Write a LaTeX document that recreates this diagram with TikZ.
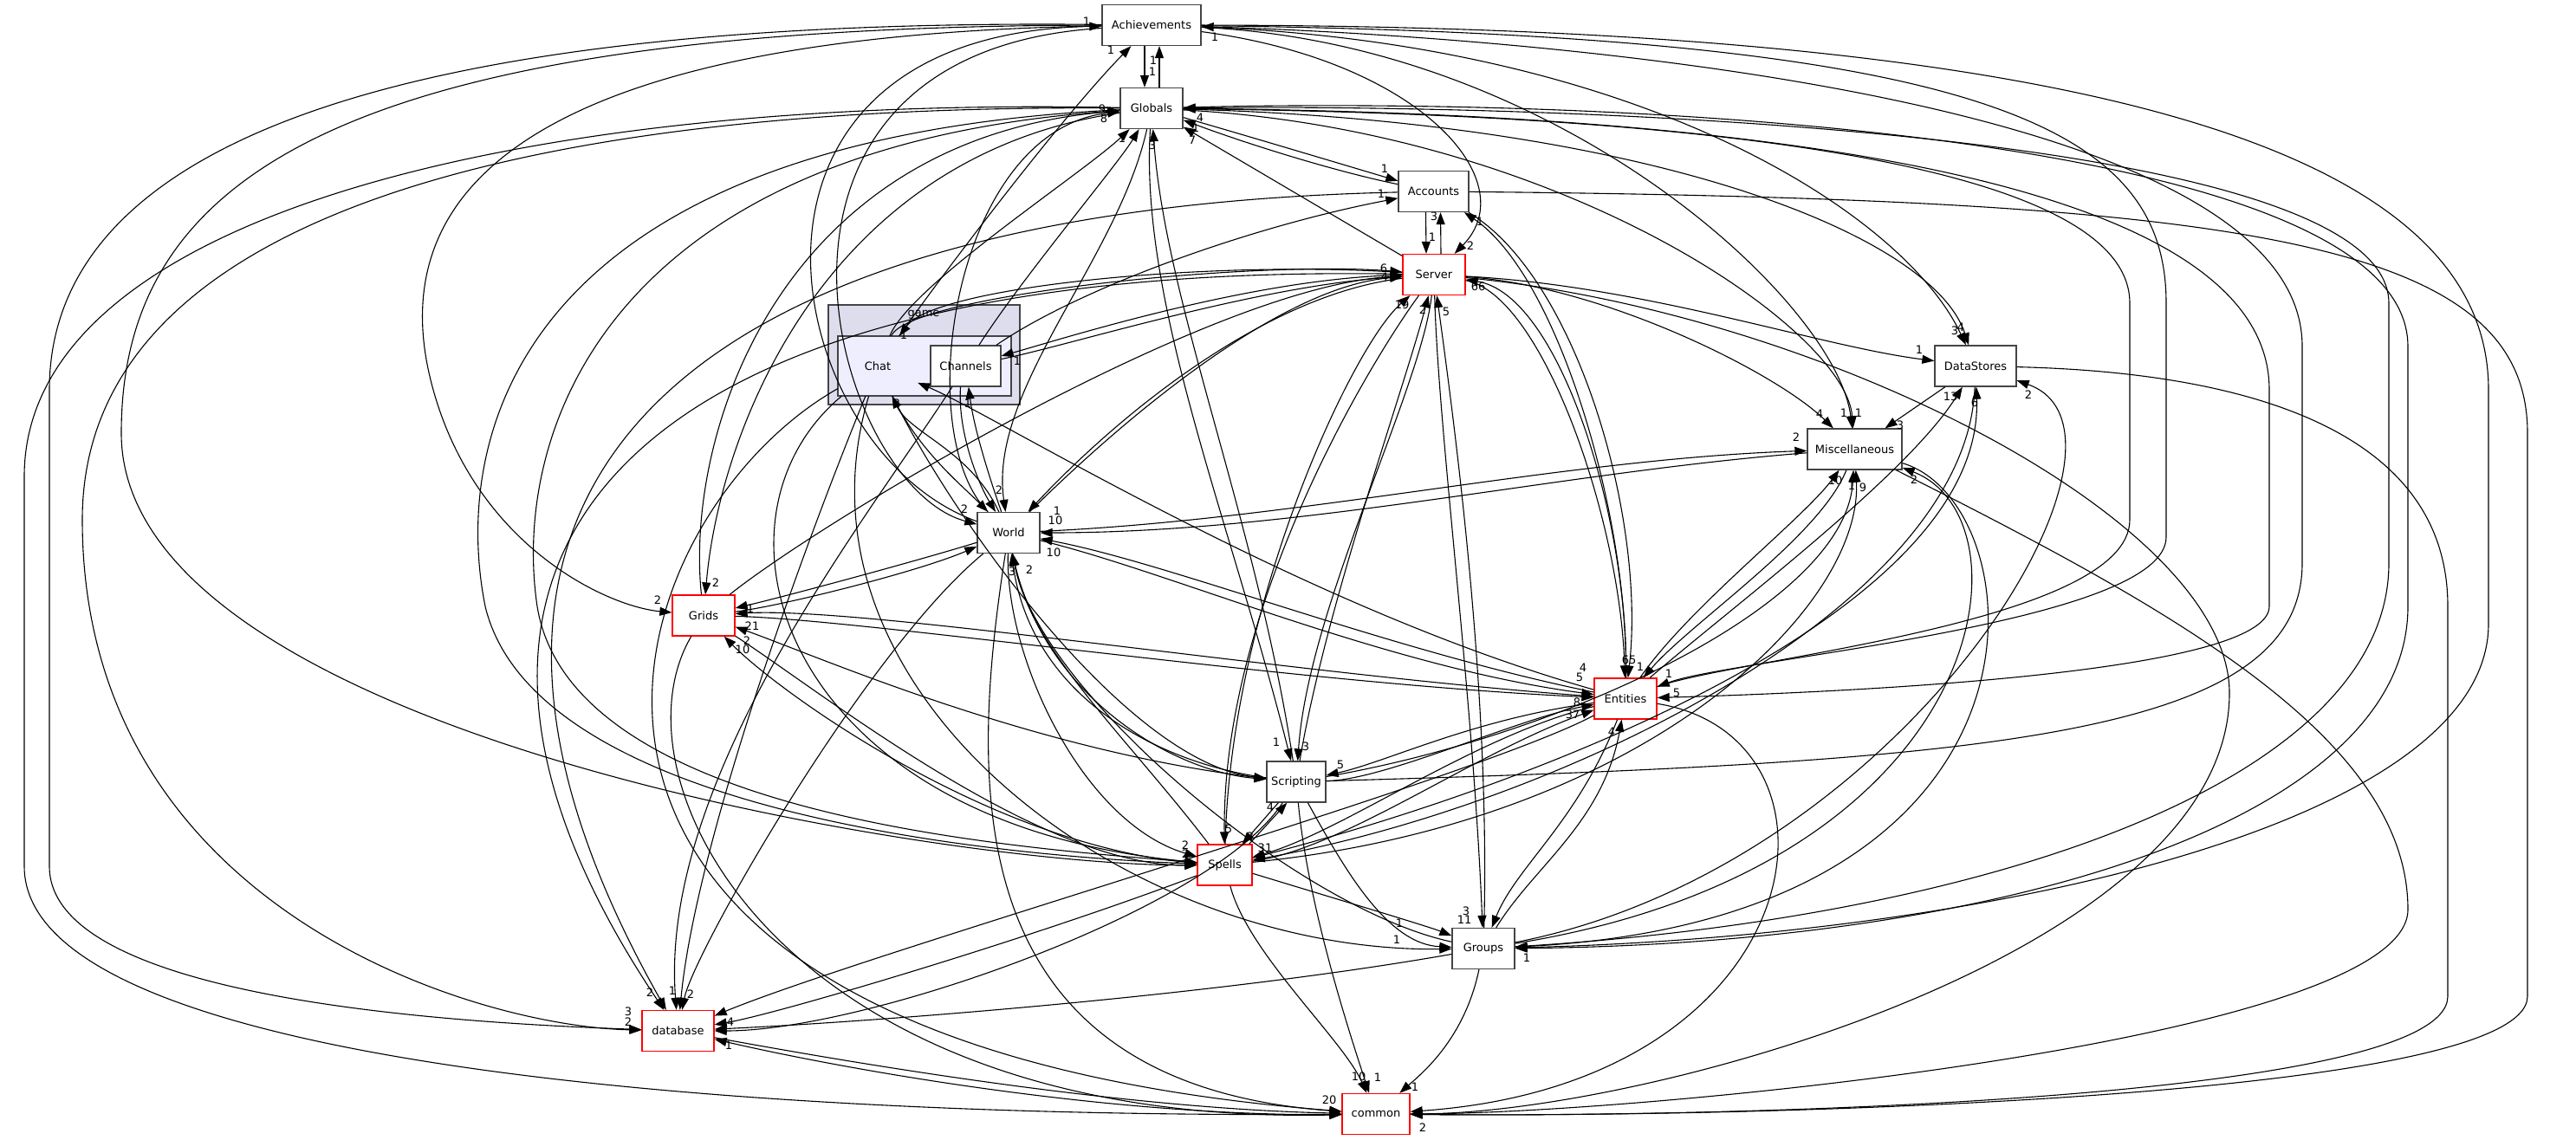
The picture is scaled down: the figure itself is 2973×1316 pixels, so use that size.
\documentclass[tikz,border=0pt]{standalone}
\usepackage{fontspec}
\setmainfont{DejaVu Sans}
\usetikzlibrary{arrows.meta}
\definecolor{cgame}{HTML}{DDDDEE}
\definecolor{cchat}{HTML}{EEEEFF}
\definecolor{cbord}{HTML}{444444}
\begin{document}
\begin{tikzpicture}[x=1pt,y=-1pt,
  box/.style={draw=cbord, line width=1.3pt, fill=white, minimum height=47pt, inner sep=0pt, font=\fontsize{13}{15}\selectfont},
  rbox/.style={box, draw=red},
  e/.style={-{Triangle[length=14pt,width=10pt]}, line width=1.1pt},
  lb/.style={font=\fontsize{13}{15}\selectfont, inner sep=0pt},
]
\useasboundingbox[fill=white] (0,0) rectangle (2973,1316);
% clusters
\node[draw=cbord, line width=1.3pt, fill=cgame, minimum width=221pt, minimum height=115pt, inner sep=0pt] (game) at (1066.5,409.5) {};
\node[lb] (gamet) at (1066,363) {game};
\node[draw=cbord, line width=1.3pt, fill=cchat, minimum width=200pt, minimum height=69pt, inner sep=0pt] (chatc) at (1067,422.5) {};
\node[inner sep=0pt, minimum width=92pt, minimum height=69pt, font=\fontsize{13}{15}\selectfont] (chat) at (1013,422.5) {Chat};
% nodes
\node[box, minimum width=114pt] (ach) at (1329,29) {Achievements};
\node[box, minimum width=72pt] (glo) at (1329,125) {Globals};
\node[box, minimum width=81pt] (acc) at (1654.5,221) {Accounts};
\node[rbox, minimum width=72pt] (srv) at (1655,317) {Server};
\node[box, minimum width=81pt] (chn) at (1114.5,422.5) {Channels};
\node[box, minimum width=94pt] (dst) at (2280,422.5) {DataStores};
\node[box, minimum width=109pt] (msc) at (2140.5,518.5) {Miscellaneous};
\node[box, minimum width=72pt] (wld) at (1164,615) {World};
\node[rbox, minimum width=72pt] (grd) at (812,710.5) {Grids};
\node[rbox, minimum width=72pt] (ent) at (1876,806.5) {Entities};
\node[box, minimum width=68pt] (scr) at (1496,902.5) {Scripting};
\node[rbox, minimum width=63pt] (spl) at (1413.5,998.5) {Spells};
\node[box, minimum width=72pt] (grp) at (1712,1095) {Groups};
\node[rbox, minimum width=83pt] (db) at (782.5,1190) {database};
\node[rbox, minimum width=78pt] (cmn) at (1588,1286) {common};

% Achievements
\draw[e] ([xshift=-8pt]ach.south) -- ([xshift=-8pt]glo.north) node[lb] at (1330,83) {1};
\draw[e] ([xshift=9pt]glo.north) -- ([xshift=9pt]ach.south) node[lb] at (1331,70) {1};
\draw[e] (ach) .. controls (1640,70) and (1760,210) .. (srv) node[lb] at (1697,284) {2};
\draw[e] (ach) .. controls (1900,50) and (2200,250) .. (dst) node[lb] at (2256,382) {3};
\draw[e] (ach) .. controls (1800,50) and (2120,350) .. (msc) node[lb] at (2128,477) {1};
\draw[e] (ach) .. controls (2300,40) and (2500,150) .. (2500,350) -- (2500,620) .. controls (2500,720) and (2000,760) .. (ent) node[lb] at (1926,778) {1};
\draw[e] (scr) .. controls (2300,880) and (2657,850) .. (2657,650) -- (2657,400) .. controls (2657,100) and (1700,40) .. (ach) node[lb] at (1402,43) {1};
\draw[e] (ach) .. controls (2500,30) and (2872,200) .. (2872,450) -- (2872,720) .. controls (2872,950) and (2300,1080) .. (grp) node[lb] at (1762,1106) {1};
\draw[e] (wld) .. controls (900,520) and (800,40) .. (ach) node[lb] at (1254,25) {1};
\draw[e] (ach) .. controls (820,60) and (960,560) .. (wld) node[lb] at (1113,588) {2};
\draw[e] (ach) .. controls (650,40) and (430,200) .. (500,450) .. controls (550,630) and (700,700) .. (grd) node[lb] at (759,693) {2};
\draw[e] (ach) .. controls (500,20) and (57,150) .. (57,450) -- (57,1000) .. controls (57,1150) and (500,1180) .. (db) node[lb] at (725,1168) {3};
\draw[e] (ach) .. controls (400,30) and (140,200) .. (140,500) .. controls (140,850) and (1100,1000) .. (spl) node[lb] at (1368,976) {2};
\draw[e] (chat) .. controls (1100,300) and (1230,130) .. (ach) node[lb] at (1282,58) {1};

% Globals
\draw[e] (glo) .. controls (600,110) and (28,250) .. (28,550) -- (28,1000) .. controls (28,1250) and (1000,1290) .. (cmn) node[lb] at (1534,1270) {20};
\draw[e] (glo) .. controls (600,120) and (95,250) .. (95,600) .. controls (95,1050) and (550,1185) .. (db) node[lb] at (725,1180) {2};
\draw[e] (glo) .. controls (1290,300) and (1140,450) .. (wld) node[lb] at (1153,566) {2};
\draw[e] (wld) .. controls (1050,500) and (1100,150) .. (glo) node[lb] at (1272,126) {9};
\draw[e] (glo) .. controls (950,180) and (830,500) .. (grd) node[lb] at (826,673) {2};
\draw[e] (grd) .. controls (790,500) and (900,160) .. (glo) node[lb] at (1274,137) {8};
\draw[e] (glo) .. controls (600,160) and (520,500) .. (560,700) .. controls (620,950) and (1200,990) .. (spl) node[lb] at (1368,986) {2};
\draw[e] (spl) .. controls (1200,980) and (660,950) .. (620,700) .. controls (590,500) and (700,170) .. (glo);
\draw[e] (chat) .. controls (1050,330) and (1250,200) .. (glo) node[lb] at (1295,160) {1};
\draw[e] (chn) .. controls (1180,320) and (1290,190) .. (glo);
\draw[e] (scr) .. controls (1450,600) and (1345,350) .. (glo) node[lb] at (1330,168) {3};
\draw[e] (glo) .. controls (1315,350) and (1420,600) .. (scr) node[lb] at (1473,857) {1};
\draw[e] (srv) -- (glo) node[lb] at (1376,162) {7};
\draw[e] (glo) .. controls (1450,160) and (1550,190) .. (acc) node[lb] at (1598,195) {1};
\draw[e] (acc) .. controls (1550,200) and (1450,170) .. (glo) node[lb] at (1380,148) {1};
\draw[e] (ent) .. controls (2000,760) and (2458,720) .. (2458,600) -- (2458,350) .. controls (2458,150) and (1700,130) .. (glo) node[lb] at (1385,136) {4};
\draw[e] (glo) .. controls (2000,130) and (2619,200) .. (2619,450) -- (2619,700) .. controls (2619,780) and (2100,800) .. (ent) node[lb] at (1935,800) {5};
\draw[e] (grp) .. controls (2300,1060) and (2757,900) .. (2757,650) -- (2757,350) .. controls (2757,150) and (1800,120) .. (glo);
\draw[e] (glo) .. controls (1900,110) and (2779,160) .. (2779,400) -- (2779,700) .. controls (2779,950) and (2300,1090) .. (grp);
\draw[e] (glo) .. controls (1800,150) and (2130,380) .. (msc) node[lb] at (2145,477) {1};
\draw[e] (glo) .. controls (1900,140) and (2230,270) .. (dst) node[lb] at (2263,378) {4};

% Accounts
\draw[e] ([xshift=-9pt]acc.south) -- ([xshift=-9pt]srv.north) node[lb] at (1653,274) {1};
\draw[e] ([xshift=8pt]srv.north) -- ([xshift=8pt]acc.south) node[lb] at (1655,250) {3};
\draw[e] (acc) .. controls (2600,230) and (2917,280) .. (2917,500) -- (2917,1150) .. controls (2917,1270) and (2000,1290) .. (cmn) node[lb] at (1642,1302) {2};
\draw[e] (acc) .. controls (800,240) and (420,550) .. (db) node[lb] at (750,1146) {2};
\draw[e] (chn) .. controls (1250,330) and (1450,260) .. (acc) node[lb] at (1594,224) {1};
\draw[e] (ent) .. controls (1880,600) and (1800,320) .. (acc) node[lb] at (1708,256) {1};
\draw[e] (acc) .. controls (1820,320) and (1900,600) .. (ent) node[lb] at (1893,770) {1};

% Server
\draw[e] (wld) .. controls (1300,480) and (1480,330) .. (srv) node[lb] at (1597,310) {6};
\draw[e] (srv) .. controls (1460,340) and (1290,480) .. (wld) node[lb] at (1220,590) {1};
\draw[e] (chat) .. controls (1050,340) and (1450,300) .. (srv) node[lb] at (1598,320) {4};
\draw[e] (srv) .. controls (1400,300) and (1080,330) .. (chat) node[lb] at (1043,387) {1};
\draw[e] (chn) .. controls (1230,400) and (1450,330) .. (srv);
\draw[e] (srv) .. controls (1450,320) and (1230,390) .. (chn) node[lb] at (1174,417) {1};
\draw[e] (grd) .. controls (950,600) and (1400,330) .. (srv);
\draw[e] (spl) .. controls (1420,700) and (1560,400) .. (srv) node[lb] at (1618,352) {19};
\draw[e] (srv) .. controls (1580,420) and (1410,700) .. (spl) node[lb] at (1418,957) {5};
\draw[e] (scr) .. controls (1530,700) and (1620,450) .. (srv) node[lb] at (1642,358) {2};
\draw[e] (srv) .. controls (1640,450) and (1510,700) .. (scr) node[lb] at (1507,862) {3};
\draw[e] (grp) .. controls (1720,800) and (1680,500) .. (srv) node[lb] at (1669,360) {5};
\draw[e] (srv) .. controls (1660,500) and (1700,800) .. (grp) node[lb] at (1692,1052) {3};
\draw[e] (ent) .. controls (1880,600) and (1800,340) .. (srv) node[lb] at (1706,331) {66};
\draw[e] (srv) .. controls (1780,340) and (1870,600) .. (ent) node[lb] at (1880,762) {65};
\draw[e] (srv) .. controls (1900,330) and (2100,400) .. (dst) node[lb] at (2215,404) {1};
\draw[e] (srv) .. controls (1850,330) and (2050,430) .. (msc) node[lb] at (2100,478) {4};
\draw[e] (srv) .. controls (2100,360) and (2573,600) .. (2573,800) .. controls (2573,1100) and (1900,1285) .. (cmn);
\draw[e] (srv) .. controls (700,300) and (420,650) .. (db);

% DataStores, Miscellaneous
\draw[e] (dst) -- (msc) node[lb] at (2193,491) {3};
\draw[e] (ent) .. controls (2000,700) and (2200,550) .. (dst) node[lb] at (2251,458) {13};
\draw[e] (spl) .. controls (1800,900) and (2290,700) .. (dst) node[lb] at (2279,465) {6};
\draw[e] (dst) .. controls (2270,700) and (1800,930) .. (spl);
\draw[e] (grp) .. controls (2200,1000) and (2500,500) .. (dst) node[lb] at (2341,456) {2};
\draw[e] (dst) .. controls (2600,430) and (2825,500) .. (2825,700) -- (2825,1150) .. controls (2825,1270) and (2000,1290) .. (cmn);
\draw[e] (msc) .. controls (2500,700) and (2779,850) .. (2779,1050) .. controls (2779,1200) and (1900,1285) .. (cmn);
\draw[e] (msc) .. controls (2350,580) and (2400,1060) .. (grp);
\draw[e] (wld) .. controls (1500,600) and (1800,530) .. (msc) node[lb] at (2073,505) {2};
\draw[e] (msc) .. controls (1800,545) and (1500,615) .. (wld) node[lb] at (1218,601) {10};
\draw[e] (ent) .. controls (1950,700) and (2080,600) .. (msc) node[lb] at (2118,555) {10};
\draw[e] (msc) .. controls (2100,620) and (1950,720) .. (ent);
\draw[e] (scr) .. controls (1800,850) and (2130,700) .. (msc) node[lb] at (2137,561) {1};
\draw[e] (spl) .. controls (1900,950) and (2150,700) .. (msc) node[lb] at (2150,563) {9};
\draw[e] (grp) .. controls (2300,1000) and (2350,600) .. (msc) node[lb] at (2209,554) {2};

% World
\draw[e] (wld) .. controls (1050,650) and (900,690) .. (grd) node[lb] at (866,703) {1};
\draw[e] (grd) .. controls (900,700) and (1060,660) .. (wld);
\draw[e] (ent) .. controls (1600,750) and (1350,650) .. (wld) node[lb] at (1216,638) {10};
\draw[e] (wld) .. controls (1350,660) and (1600,770) .. (ent) node[lb] at (1823,782) {5};
\draw[e] (wld) .. controls (1200,800) and (1350,890) .. (scr);
\draw[e] (scr) .. controls (1330,880) and (1190,800) .. (wld) node[lb] at (1168,660) {3};
\draw[e] (spl) .. controls (1300,850) and (1190,750) .. (wld) node[lb] at (1188,658) {2};
\draw[e] (wld) .. controls (1160,760) and (1250,950) .. (spl);
\draw[e] (grp) .. controls (1500,1050) and (1200,800) .. (wld);
\draw[e] (wld) .. controls (1000,750) and (800,1100) .. (db) node[lb] at (797,1148) {2};
\draw[e] (wld) .. controls (1120,900) and (1100,1250) .. (cmn);
\draw[e] (wld) .. controls (1120,520) and (1050,500) .. (chat) node[lb] at (1035,466) {2};
\draw[e] (chat) .. controls (1060,520) and (1110,560) .. (wld);
\draw[e] ([xshift=-6pt]chn.south) .. controls (1105,500) and (1130,560) .. (wld);
\draw[e] (wld) .. controls (1145,560) and (1125,500) .. (chn) node[lb] at (1117,466) {1};

% Grids
\draw[e] (ent) .. controls (1500,780) and (1000,700) .. (grd) node[lb] at (868,723) {21};
\draw[e] (grd) .. controls (1000,715) and (1500,790) .. (ent) node[lb] at (1827,771) {4};
\draw[e] (scr) .. controls (1200,870) and (950,760) .. (grd) node[lb] at (857,750) {10};
\draw[e] (spl) .. controls (1150,980) and (900,800) .. (grd) node[lb] at (862,740) {2};
\draw[e] (grd) .. controls (950,800) and (1200,1000) .. (spl);
\draw[e] (grd) .. controls (700,900) and (900,1300) .. (cmn);

% Entities, Scripting, Spells, Groups
\draw[e] (ent) .. controls (1700,830) and (1600,880) .. (scr) node[lb] at (1547,883) {5};
\draw[e] (scr) .. controls (1600,900) and (1750,830) .. (ent) node[lb] at (1820,811) {8};
\draw[e] (ent) .. controls (1700,850) and (1550,960) .. (spl) node[lb] at (1460,979) {31};
\draw[e] (spl) .. controls (1550,980) and (1700,870) .. (ent) node[lb] at (1815,825) {37};
\draw[e] (ent) .. controls (1820,950) and (1750,1000) .. (grp) node[lb] at (1690,1062) {11};
\draw[e] (grp) .. controls (1770,1000) and (1850,950) .. (ent) node[lb] at (1860,845) {4};
\draw[e] (ent) .. controls (1700,900) and (1000,1100) .. (db) node[lb] at (843,1180) {4};
\draw[e] (ent) .. controls (2150,850) and (2100,1250) .. (cmn);
\draw[e] (ent) .. controls (1500,700) and (1150,480) .. (chat);
\draw[e] ([xshift=14pt]scr.south west) -- ([xshift=-12pt]spl.north east) node[lb] at (1443,966) {2};
\draw[e] ([xshift=-4pt]spl.north east) -- ([xshift=24pt]scr.south west) node[lb] at (1466,932) {4};
\draw[e] (spl) .. controls (1550,1040) and (1650,1070) .. (grp) node[lb] at (1615,1066) {1};
\draw[e] (scr) .. controls (1550,1000) and (1600,1090) .. (grp) node[lb] at (1612,1085) {1};
\draw[e] (scr) .. controls (1510,1050) and (1560,1200) .. (cmn) node[lb] at (1590,1244) {1};
\draw[e] (spl) .. controls (1440,1100) and (1550,1200) .. (cmn) node[lb] at (1568,1243) {10};
\draw[e] (grp) .. controls (1690,1200) and (1640,1240) .. (cmn) node[lb] at (1633,1255) {1};
\draw[e] (spl) .. controls (1200,1080) and (900,1170) .. (db);
\draw[e] (grp) .. controls (1400,1150) and (1000,1180) .. (db);
\draw[e] (scr) .. controls (1400,1050) and (1000,1190) .. (db);
\draw[e] (db) .. controls (1000,1230) and (1300,1280) .. (cmn);
\draw[e] (cmn) .. controls (1300,1290) and (1000,1240) .. (db) node[lb] at (841,1207) {1};
\draw[e] (chat) .. controls (900,700) and (800,1000) .. (db) node[lb] at (776,1144) {1};
\draw[e] (chn) .. controls (1000,600) and (760,900) .. (db);
\draw[e] (chat) .. controls (700,600) and (500,1200) .. (cmn);
\draw[e] (chat) .. controls (800,600) and (900,950) .. (spl);
\draw[e] (chat) .. controls (900,800) and (1300,1100) .. (grp);
\draw[e] (chat) .. controls (1100,600) and (1300,880) .. (scr);
\end{tikzpicture}
\end{document}
